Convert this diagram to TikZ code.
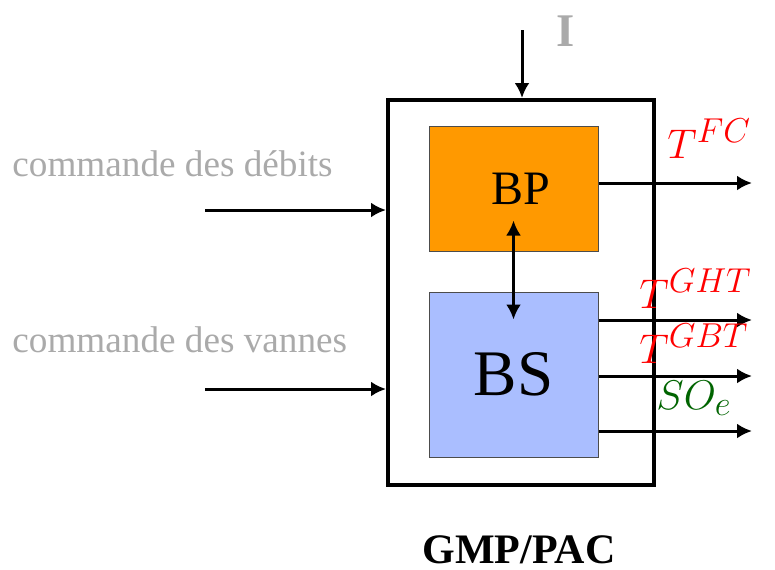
\documentclass[tikz,border=0pt]{standalone}
\usepackage{fontspec}
\setmainfont{Liberation Serif}
\usetikzlibrary{arrows.meta}
\DeclareMathSizes{19.5}{19.5}{16.5}{12}
\newcommand{\bigsup}[1]{\mbox{\fontsize{17.5}{19}\selectfont$#1$}}
\definecolor{bporange}{RGB}{255,153,0}
\definecolor{bsblue}{RGB}{170,190,255}
\definecolor{txtgray}{RGB}{170,170,170}
\definecolor{outgreen}{RGB}{0,100,0}
\begin{document}
\begin{tikzpicture}[x=0.5pt, y=-0.5pt, >={Latex[length=7.5pt,width=7.5pt]},
          sig/.style={line width=1.5pt, ->},
          bloc/.style={draw=black!70, line width=0.5pt, minimum width=84.5pt},
          cmd/.style={anchor=base west, inner sep=0pt, text=txtgray, font=\fontsize{18.6}{20}\selectfont},
          outlab/.style={anchor=base west, inner sep=0pt, font=\fontsize{19.5}{22}\selectfont}]
        \useasboundingbox (0,0) rectangle (775,569);
        % outer block
        \node[draw, line width=2pt, minimum width=133pt, minimum height=192.5pt] (gmp) at (521,292.5) {};
        \node[bloc, fill=bporange, minimum height=62.5pt, font=\fontsize{24}{26}\selectfont] (bp) at (513.5,188.5) {\hspace{7pt}BP};
        \node[bloc, fill=bsblue, minimum height=82.5pt, font=\fontsize{32.5}{34}\selectfont] (bs) at (513.5,374.5) {BS};
        \draw[line width=1.5pt, <->] ([yshift=15.5pt]bp.south) -- ([yshift=-14pt]bs.north);
        % inputs
        \coordinate (iin) at (522,30);
        \coordinate (deb) at (205,210);
        \coordinate (van) at (205,389);
        \draw[sig] (iin) -- (iin |- gmp.north);
        \draw[sig] (deb) -- (deb -| gmp.west);
        \draw[sig] (van) -- (van -| gmp.west);
        \node[text=txtgray, font=\bfseries\fontsize{23.4}{25}\selectfont] (ilab) at (566,31) {I};
        \node[cmd] (debl) at (12,176) {commande des débits};
        \node[cmd] (vanl) at (12,352) {commande des vannes};
        % outputs
        \coordinate (tfc) at (752,183);
        \coordinate (tght) at (752,320);
        \coordinate (tgbt) at (752,376);
        \coordinate (soe) at (752,431);
        \draw[sig] (bp.east |- tfc) -- (tfc);
        \draw[sig] (bs.east |- tght) -- (tght);
        \draw[sig] (bs.east |- tgbt) -- (tgbt);
        \draw[sig] (bs.east |- soe) -- (soe);
        \node[outlab, text=red] (tfcl) at (667,158) {$T^{FC}$};
        \node[outlab, text=red] (tghtl) at (639,308) {$T^{\bigsup{GHT}}$};
        \node[outlab, text=red] (tgbtl) at (639,363) {$T^{\bigsup{GBT}}$};
        \node[outlab, text=outgreen] (soel) at (656,409) {$SO_e$};
        \node[anchor=base, inner sep=0pt, font=\bfseries\fontsize{21}{23}\selectfont] (title) at (519,563) {GMP/PAC};
      \end{tikzpicture}
\end{document}
